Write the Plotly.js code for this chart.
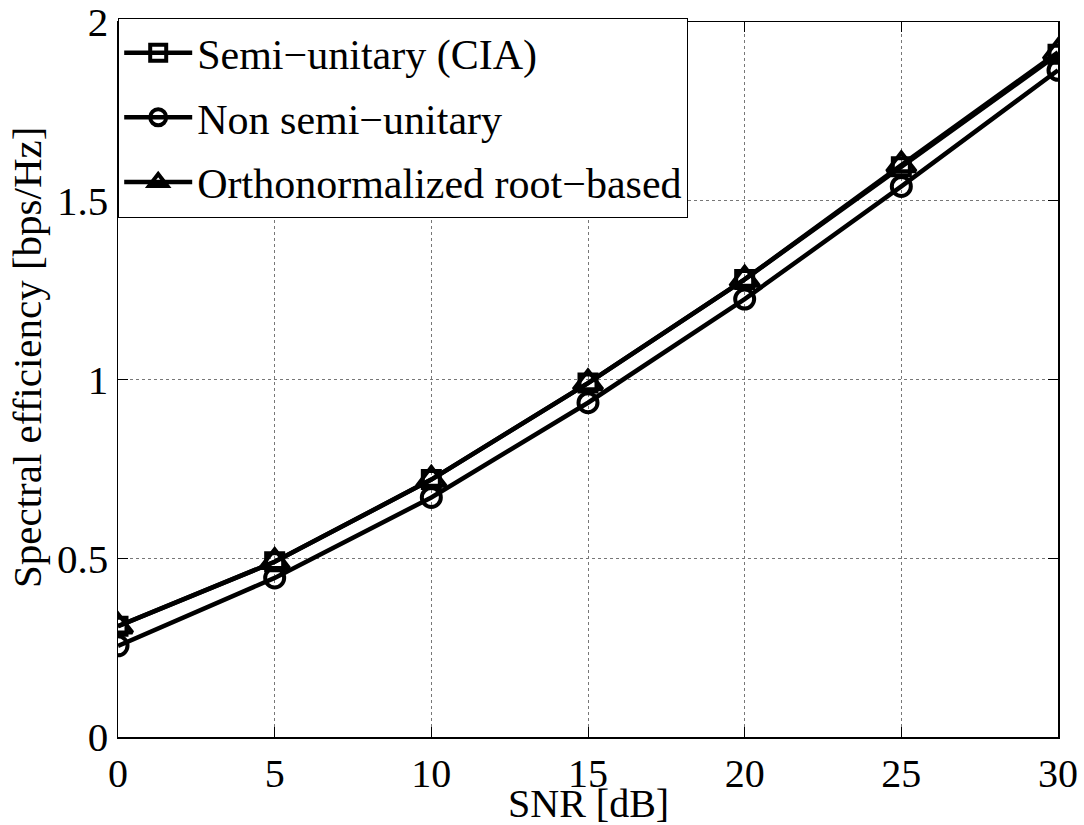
<!DOCTYPE html>
<html>
<head>
<meta charset="utf-8">
<script src="https://cdn.plot.ly/plotly-3.0.1.min.js"></script>
<style>html,body{margin:0;padding:0;background:#fff;}#chart{width:1084px;height:825px;}</style>
</head>
<body>
<div id="chart"></div>
<script>
const snr = [0, 5, 10, 15, 20, 25, 30];
const semiUnitary = [0.31, 0.49, 0.72, 0.99, 1.28, 1.595, 1.91];
const nonSemiUnitary = [0.255, 0.445, 0.67, 0.935, 1.225, 1.54, 1.865];
const orthoRoot = [0.31, 0.49, 0.72, 0.99, 1.28, 1.60, 1.915];
const seriesNames = ['Semi\u2212unitary (CIA)', 'Non semi\u2212unitary', 'Orthonormalized root\u2212based'];
const xTicks = [0, 5, 10, 15, 20, 25, 30];
const yTicks = [0, 0.5, 1, 1.5, 2];
const yTickText = ['0', '0.5', '1', '1.5', '2'];
const xTitle = 'SNR [dB]';
const yTitle = 'Spectral efficiency [bps/Hz]';

const FONT = 'Liberation Serif, Times New Roman, serif';

function mk(y, name, symbol, size, grp) {
  return {
    x: snr, y: y, name: name, type: 'scatter', mode: 'lines+markers',
    legendgroup: grp,
    line: {color: '#000', width: 4.5},
    marker: {symbol: symbol, size: size, color: '#000', line: {color: '#000', width: 4}}
  };
}

const data = [
  mk(semiUnitary, seriesNames[0], 'square-open', 17, 'a'),
  mk(nonSemiUnitary, seriesNames[1], 'circle-open', 19, 'b'),
  mk(orthoRoot, seriesNames[2], 'triangle-up-open', 25, 'c')
];

const plotH = 825 - 22 - 88;
const plotW = 1084 - 118 - 26;
const layout = {
  width: 1084, height: 825,
  margin: {l: 118, r: 26, t: 22, b: 88},
  paper_bgcolor: '#fff', plot_bgcolor: '#fff',
  font: {family: FONT, color: '#000', size: 40},
  showlegend: true,
  legend: {
    x: 0, y: 1.006, xanchor: 'left', yanchor: 'top',
    bgcolor: '#fff', bordercolor: '#000', borderwidth: 1.2,
    font: {family: FONT, size: 42, color: '#000'},
    traceorder: 'grouped', tracegroupgap: 7,
    itemwidth: 68
  },
  xaxis: {
    range: [0, 30], tickvals: xTicks, ticktext: xTicks.map(String),
    ticks: 'inside', ticklen: 10, tickcolor: '#000', tickwidth: 1,
    showline: true, linecolor: '#000', linewidth: 1.5, mirror: 'ticks',
    showgrid: true, gridcolor: '#777', griddash: 'dot', gridwidth: 1,
    zeroline: false, ticklabeloverflow: 'allow',
    tickfont: {family: FONT, size: 40, color: '#000'},
    automargin: false
  },
  yaxis: {
    range: [0, 2], tickvals: yTicks, ticktext: yTickText,
    ticks: 'inside', ticklen: 10, tickcolor: '#000', tickwidth: 1,
    showline: true, linecolor: '#000', linewidth: 1.5, mirror: 'ticks',
    showgrid: true, gridcolor: '#777', griddash: 'dot', gridwidth: 1,
    zeroline: false, ticklabeloverflow: 'allow',
    tickfont: {family: FONT, size: 41, color: '#000'},
    automargin: false
  },
  annotations: [
    {text: xTitle, xref: 'paper', yref: 'paper', x: 0.5, y: -(803 - 737) / plotH,
     xanchor: 'center', yanchor: 'middle', showarrow: false,
     font: {family: FONT, size: 40, color: '#000'}},
    {text: yTitle, xref: 'paper', yref: 'paper', x: -(118 - 27) / plotW, y: (737 - 358) / plotH,
     xanchor: 'center', yanchor: 'middle', showarrow: false, textangle: -90,
     font: {family: FONT, size: 41, color: '#000'}}
  ]
};

Plotly.newPlot('chart', data, layout, {displayModeBar: false, staticPlot: true});
</script>
</body>
</html>
